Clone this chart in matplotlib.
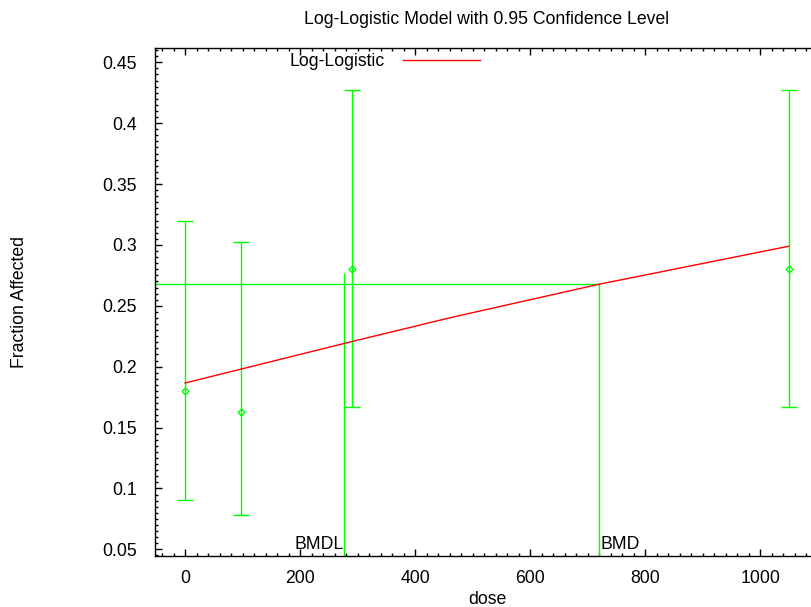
import matplotlib.pyplot as plt
import numpy as np
from matplotlib.ticker import MultipleLocator, FormatStrFormatter

plt.rcParams['font.family'] = ['Liberation Sans', 'DejaVu Sans']

# observed data with 95% confidence limits
dose = [0, 97, 290, 1050]
frac = [0.180, 0.163, 0.280, 0.280]
lower = [0.0905, 0.0782, 0.1666, 0.1666]
upper = [0.3194, 0.3022, 0.427, 0.427]

# fitted log-logistic curve
fit_dose = [0, 289, 461, 720, 1050]
fit_frac = [0.1866, 0.2205, 0.2402, 0.2677, 0.2989]

bmd = 720
bmdl = 276
bmr_level = 0.2677
bmdl_top = 0.2761

green = '#00ff00'
red = '#ff0000'
fs = 12.7

fig = plt.figure(figsize=(8.12, 6.07), dpi=100)
ax = fig.add_axes([155 / 812, 51 / 607, 664 / 812, 508 / 607])
ax.set_xlim(-52.5, 1102.5)
ax.set_ylim(0.0445, 0.4617)

yerr = [np.array(frac) - np.array(lower), np.array(upper) - np.array(frac)]
ax.errorbar(dose, frac, yerr=yerr, fmt='D', color=green, ms=3.5, mfc='none',
            mew=1.0, elinewidth=1.0, capsize=6, capthick=1.0, zorder=3)

ax.plot(fit_dose, fit_frac, color=red, lw=1.0, label='Log-Logistic', zorder=4)

# BMD / BMDL markers
xl = ax.get_xlim()
yl = ax.get_ylim()
ax.plot([xl[0], bmd], [bmr_level, bmr_level], color=green, lw=1.0)
ax.plot([bmd, bmd], [yl[0], bmr_level], color=green, lw=1.0)
ax.plot([bmdl, bmdl], [yl[0], bmdl_top], color=green, lw=1.0)
ax.text(bmdl, 0.05, 'BMDL', ha='right', va='baseline', fontsize=fs)
ax.text(bmd + 2, 0.05, 'BMD', ha='left', va='baseline', fontsize=fs)

ax.xaxis.set_major_locator(MultipleLocator(200))
ax.xaxis.set_minor_locator(MultipleLocator(20))
ax.yaxis.set_major_locator(MultipleLocator(0.05))
ax.yaxis.set_minor_locator(MultipleLocator(0.005))
ax.yaxis.set_major_formatter(FormatStrFormatter('%g'))
ax.tick_params(which='both', direction='in', top=True, right=True,
               labelsize=fs, width=1.0)
ax.tick_params(which='major', length=5)
ax.tick_params(which='minor', length=2.5)
ax.tick_params(axis='y', which='major', pad=13)
ax.tick_params(axis='x', which='major', pad=10)
for s in ax.spines.values():
    s.set_linewidth(1.0)

fig.text(487 / 812, 1 - 20 / 607, 'Log-Logistic Model with 0.95 Confidence Level',
         ha='center', va='center', fontsize=fs)
fig.text(487 / 812, 1 - 600 / 607, 'dose', ha='center', va='center', fontsize=fs)
fig.text(20 / 812, 1 - 302 / 607, 'Fraction Affected', ha='center', va='center',
         rotation=90, fontsize=fs)

ax.legend(loc='center left', bbox_to_anchor=(290 / 812, 1 - 61.5 / 607),
          bbox_transform=fig.transFigure, frameon=False, markerfirst=False,
          handlelength=4.4, handletextpad=1.0, borderpad=0, borderaxespad=0,
          fontsize=fs)

fig.savefig('out.png', dpi=100)
